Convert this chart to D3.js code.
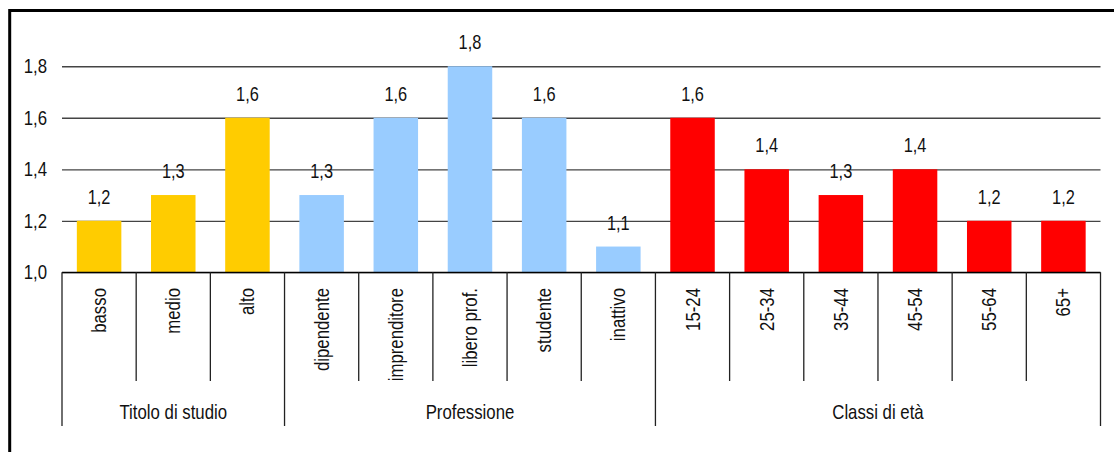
<!DOCTYPE html>
<html>
<head>
<meta charset="utf-8">
<script src="https://cdn.jsdelivr.net/npm/d3@7/dist/d3.min.js"></script>
<style>
  body { margin: 0; background: #fff; }
  svg text { font-family: "Liberation Sans", Arial, sans-serif; fill: #111; }
</style>
</head>
<body>
<svg id="chart" width="1114" height="452"></svg>
<script>
// categories, grouped as in the original table
const categories = ['basso', 'medio', 'alto',
    'dipendente', 'imprenditore', 'libero prof.', 'studente', 'inattivo',
    '15-24', '25-34', '35-44', '45-54', '55-64', '65+'];
const values = [1.2, 1.3, 1.6, 1.3, 1.6, 1.8, 1.6, 1.1, 1.6, 1.4, 1.3, 1.4, 1.2, 1.2];
const groups = ['Titolo di studio', 'Professione', 'Classi di età'];
const groupSizes = [3, 5, 6];
const groupColors = ['#FFCC00', '#99CCFF', '#FF0000'];
const yTicks = [1.0, 1.2, 1.4, 1.6, 1.8];

const width = 1114;
const height = 452;
const plot = { left: 62, right: 1100.5, top: 40.5, bottom: 272.3 };
const catLineBottom = 381;
const groupLineBottom = 426;
// no narrow font installed: squeeze Liberation Sans to look like Arial Narrow
const narrow = 'scale(0.84,1)';

const it = d3.formatLocale({ decimal: ',', thousands: '.', grouping: [3], currency: ['', '€'] });
const fmt = it.format('.1f');

// which group each bar belongs to
const groupOf = [];
groupSizes.forEach((n, g) => { for (let i = 0; i < n; i += 1) groupOf.push(g); });
// first category index of each group: [0, 3, 8]
const starts = groupSizes.map((n, g) => d3.sum(groupSizes.slice(0, g)));

const svg = d3.select('#chart');

const x = d3.scaleBand()
    .domain(categories)
    .range([plot.left, plot.right])
    .paddingInner(0.4)
    .paddingOuter(0.2);

const y = d3.scaleLinear()
    .domain([1.0, 1.9])
    .range([plot.bottom, plot.top]);

// outer frame (only left and top visible in the crop)
svg.append('path')
    .attr('d', `M 9.7,${ height } V 10.5 H ${ width }`)
    .attr('fill', 'none')
    .attr('stroke', '#000')
    .attr('stroke-width', 3);

// gridlines + tick labels
const yAxis = svg.append('g')
    .attr('transform', `translate(${ plot.left },0)`)
    .call(d3.axisLeft(y)
        .tickValues(yTicks)
        .tickSizeInner(-(plot.right - plot.left))
        .tickSizeOuter(0)
        .tickPadding(15)
        .tickFormat(fmt));
yAxis.attr('font-family', null);
yAxis.select('.domain').remove();
yAxis.selectAll('.tick line').attr('stroke', '#444').attr('stroke-width', 1.3);
yAxis.selectAll('.tick text')
    .attr('x', 0)
    .attr('transform', `translate(-15,0) ${ narrow }`)
    .attr('font-size', 20)
    .attr('fill', '#111');

// bars
svg.append('g')
    .selectAll('rect')
    .data(categories)
    .join('rect')
    .attr('x', d => x(d))
    .attr('width', x.bandwidth())
    .attr('y', (d, i) => y(values[i]))
    .attr('height', (d, i) => y(1.0) - y(values[i]))
    .attr('fill', (d, i) => groupColors[groupOf[i]]);

// value labels
svg.append('g')
    .selectAll('text')
    .data(categories)
    .join('text')
    .attr('transform', (d, i) => `translate(${ x(d) + x.bandwidth() / 2 },${ y(values[i]) - 17 }) ${ narrow }`)
    .attr('text-anchor', 'middle')
    .attr('font-size', 19.5)
    .text((d, i) => fmt(values[i]));

// baseline
svg.append('line')
    .attr('x1', plot.left)
    .attr('x2', plot.right)
    .attr('y1', y(1.0))
    .attr('y2', y(1.0))
    .attr('stroke', '#000')
    .attr('stroke-width', 1.3);

// category table below the axis
const step = x.step();
const boundaries = d3.range(categories.length + 1);
const groupEnds = new Set([...starts, categories.length]);
svg.append('g')
    .selectAll('line')
    .data(boundaries)
    .join('line')
    .attr('x1', i => plot.left + i * step)
    .attr('x2', i => plot.left + i * step)
    .attr('y1', y(1.0))
    .attr('y2', i => (groupEnds.has(i) ? groupLineBottom : catLineBottom))
    .attr('stroke', '#222')
    .attr('stroke-width', 1.3);

svg.append('g')
    .selectAll('text')
    .data(categories)
    .join('text')
    .attr('transform', d => `translate(${ x(d) + x.bandwidth() / 2 },288) rotate(-90) ${ narrow }`)
    .attr('dy', '0.35em')
    .attr('text-anchor', 'end')
    .attr('font-size', 20)
    .text(d => d);

svg.append('g')
    .selectAll('text')
    .data(groups)
    .join('text')
    .attr('transform', (d, g) => `translate(${ plot.left + (starts[g] + groupSizes[g] / 2) * step },412) ${ narrow }`)
    .attr('dy', '0.35em')
    .attr('text-anchor', 'middle')
    .attr('font-size', 20)
    .text(d => d);
</script>
</body>
</html>
